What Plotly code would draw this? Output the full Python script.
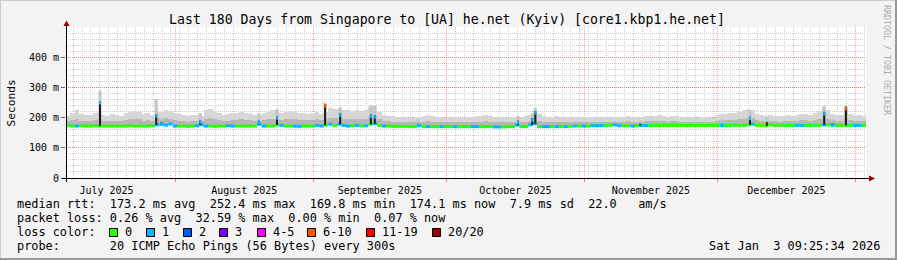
import pandas as pd
import plotly.graph_objects as go

# ---------------- data ----------------
START = pd.Timestamp("2025-07-07 09:25:34")
END = pd.Timestamp("2026-01-03 09:25:34")

# daily median rtt (ms)
median_ms = [
    173, 172, 172, 173, 172, 172, 173, 172, 172, 172,
    172, 172, 172, 172, 173, 172, 172, 172, 172, 173,
    176, 178, 175, 179, 172, 172, 172, 171, 172, 173,
    176, 172, 172, 171, 172, 172, 173, 172, 172, 172,
    172, 172, 172, 178, 172, 172, 172, 176, 174, 172,
    172, 172, 171, 172, 172, 172, 174, 172, 175, 178,
    173, 178, 174, 172, 173, 174, 172, 173, 178, 180,
    174, 172, 172, 171, 171, 171, 171, 170, 170, 174,
    170, 170, 170, 170, 170, 170, 170, 170, 170, 170,
    170, 170, 170, 170, 170, 170, 169, 169, 169, 170,
    170, 175, 170, 170, 176, 180, 170, 170, 170, 170,
    170, 170, 170, 171, 172, 172, 172, 172, 173, 173,
    173, 174, 174, 176, 173, 173, 173, 172, 173, 174,
    174, 174, 174, 174, 174, 174, 174, 174, 174, 174,
    174, 174, 174, 174, 174, 174, 174, 174, 173, 174,
    174, 174, 174, 176, 178, 174, 174, 173, 176, 174,
    174, 174, 174, 174, 174, 174, 174, 174, 174, 174,
    176, 176, 176, 174, 174, 174, 174, 174, 174, 174,
]

# daily loss class (index into loss_labels)
loss_cat = [
    0, 0, 1, 0, 0, 0, 0, 0, 0, 0, 0, 0, 0, 0, 0, 0, 0, 0, 0, 0, 1, 1, 1, 1, 1, 0, 0, 0, 0, 1,
    1, 1, 0, 0, 0, 0, 1, 1, 0, 0, 0, 0, 0, 1, 1, 0, 0, 0, 1, 0, 0, 1, 1, 0, 0, 0, 1, 1, 0, 1,
    0, 1, 1, 1, 0, 1, 0, 1, 0, 1, 0, 1, 0, 0, 0, 0, 0, 0, 0, 1, 0, 1, 0, 0, 1, 0, 0, 1, 0, 0,
    0, 1, 1, 0, 0, 0, 1, 1, 0, 0, 0, 1, 0, 0, 1, 1, 0, 1, 1, 0, 1, 0, 1, 0, 1, 0, 1, 0, 1, 1,
    1, 0, 0, 1, 1, 0, 0, 1, 0, 1, 1, 0, 0, 0, 0, 0, 0, 0, 0, 0, 0, 0, 0, 0, 0, 0, 0, 1, 0, 0,
    0, 0, 0, 0, 1, 0, 0, 0, 0, 0, 0, 0, 0, 0, 1, 1, 0, 0, 0, 0, 1, 0, 1, 0, 0, 0, 0, 1, 1, 0,
]

# top of the dense (dark) smoke, ms
smoke_dark_ms = [
    190, 192, 195, 190, 188, 190, 192, 194, 190, 188,
    190, 189, 188, 192, 195, 196, 194, 190, 192, 190,
    198, 196, 198, 195, 192, 190, 188, 187, 189, 188,
    188, 196, 198, 195, 192, 190, 190, 193, 192, 194,
    192, 191, 189, 190, 193, 195, 197, 196, 193, 194,
    196, 194, 192, 192, 191, 193, 194, 191, 195, 200,
    200, 198, 197, 196, 195, 196, 195, 196, 202, 204,
    195, 190, 188, 187, 186, 186, 186, 185, 185, 186,
    187, 188, 187, 186, 185, 185, 186, 186, 185, 184,
    185, 186, 187, 187, 188, 187, 186, 185, 185, 184,
    185, 185, 186, 187, 190, 196, 190, 187, 186, 185,
    186, 186, 185, 185, 186, 186, 185, 186, 186, 185,
    186, 186, 187, 187, 186, 187, 188, 187, 186, 187,
    188, 188, 188, 189, 188, 187, 188, 188, 187, 186,
    186, 185, 186, 186, 187, 186, 190, 191, 191, 192,
    193, 195, 197, 199, 198, 192, 190, 188, 189, 188,
    187, 188, 189, 188, 190, 191, 191, 190, 192, 196,
    200, 196, 191, 190, 189, 200, 191, 190, 189, 188,
]

# top of the light smoke (slowest pings), ms
smoke_light_ms = [
    205, 215, 225, 212, 208, 210, 215, 218, 210, 205,
    212, 210, 206, 214, 220, 222, 218, 212, 215, 210,
    222, 218, 224, 222, 214, 212, 208, 206, 210, 208,
    206, 224, 230, 222, 214, 210, 212, 216, 214, 220,
    214, 212, 208, 210, 216, 220, 225, 224, 215, 218,
    222, 218, 215, 214, 212, 216, 218, 212, 220, 232,
    230, 228, 226, 224, 222, 225, 222, 224, 236, 238,
    220, 210, 206, 204, 202, 201, 202, 200, 201, 203,
    205, 207, 205, 203, 201, 200, 202, 203, 200, 199,
    201, 203, 205, 205, 207, 205, 203, 202, 201, 200,
    201, 200, 203, 205, 210, 222, 212, 205, 203, 202,
    204, 203, 202, 201, 203, 202, 201, 203, 202, 201,
    202, 201, 203, 202, 201, 203, 205, 203, 202, 203,
    205, 204, 205, 207, 205, 203, 204, 205, 203, 202,
    201, 200, 202, 201, 203, 200, 209, 212, 212, 214,
    216, 220, 224, 228, 226, 212, 210, 206, 208, 206,
    204, 206, 208, 206, 210, 212, 212, 210, 214, 222,
    236, 224, 212, 210, 208, 234, 212, 210, 208, 206,
]

# short latency spikes
spike_time = [
    "2025-07-15 01:00", "2025-07-27 16:30", "2025-07-28 19:00", "2025-08-06 14:00",
    "2025-08-19 19:00", "2025-08-23 21:00", "2025-09-03 16:30", "2025-09-07 02:00",
    "2025-09-13 23:45", "2025-09-14 21:00", "2025-09-24 14:00", "2025-10-17 02:00",
    "2025-10-20 07:00", "2025-10-20 23:45", "2025-11-13 14:00", "2025-12-01 23:45",
    "2025-12-08 07:00", "2025-12-12 02:00", "2025-12-24 23:45", "2025-12-26 19:00",
    "2025-12-29 21:00",
]
spike_ms = [255, 212, 186, 192, 190, 205, 245, 214, 210, 208, 180, 190,
            198, 222, 180, 180, 203, 185, 219, 180, 236]
spike_smoke_ms = [290, 262, 200, 215, 215, 228, 250, 235, 240, 238, 195, 205,
                  215, 232, 190, 195, 225, 200, 238, 195, 240]
spike_cat = [1, 1, 1, 1, 1, 1, 5, 1, 1, 1, 1, 1, 1, 1, None, 1, 1, None, 1, 1, 5]

loss_labels = ["0", "1", "2", "3", "4-5", "6-10", "11-19", "20/20"]
loss_colors = ["#26ff00", "#00b8ff", "#0059ff", "#7e00ff", "#ff00ff",
               "#ff5500", "#ff0000", "#a10000"]

y_tick_vals = [0, 100, 200, 300, 400]
y_tick_text = ["0", "100 m", "200 m", "300 m", "400 m"]

title_text = "Last 180 Days from Singapore to [UA] he.net (Kyiv) [core1.kbp1.he.net]"
rtt_line = "median rtt:  173.2 ms avg  252.4 ms max  169.8 ms min  174.1 ms now  7.9 ms sd  22.0   am/s"
loss_line = "packet loss: 0.26 % avg  32.59 % max  0.00 % min  0.07 % now"
color_line = "loss color:"
probe_line = "probe:       20 ICMP Echo Pings (56 Bytes) every 300s"
stamp_text = "Sat Jan  3 09:25:34 2026"

# ---------------- figure ----------------
W, H = 897, 260
L, R, T, B = 66, 866, 27, 178          # plot area in pixels
MONO = "DejaVu Sans Mono"
DAY = pd.Timedelta(days=1)
DAY_MS = 86400000


def PX(x):
    return (x - L) / (R - L)


def PY(y):
    return (B - y) / (B - T)


def nb(s):
    return s.replace(" ", "\u00a0")


n = len(median_ms)
day_start = [START + i * DAY for i in range(n)]
day_mid = [START + (i + 0.5) * DAY for i in range(n)]

fig = go.Figure()

# light smoke
fig.add_trace(go.Bar(
    x=day_mid, y=[t - m for t, m in zip(smoke_light_ms, median_ms)], base=median_ms,
    width=DAY_MS, marker=dict(color="#d6d6d6", line_width=0), hoverinfo="skip"))

# smoke above spikes
sx, sy = [], []
for t, top in zip(spike_time, spike_smoke_ms):
    ts = pd.Timestamp(t)
    i = int((ts - START) / DAY)
    sx += [ts, ts, None]
    sy += [median_ms[i], top, None]
fig.add_trace(go.Scatter(x=sx, y=sy, mode="lines", line=dict(color="#c4c4c4", width=3),
                         hoverinfo="skip"))

# dense smoke
fig.add_trace(go.Bar(
    x=day_mid, y=[t - m for t, m in zip(smoke_dark_ms, median_ms)], base=median_ms,
    width=DAY_MS, marker=dict(color="#b6b6b6", line_width=0), hoverinfo="skip"))

# median line coloured by loss
for c in sorted(set(loss_cat)):
    lx, ly = [], []
    for i in range(n):
        if loss_cat[i] == c:
            lx += [day_start[i], day_start[i] + DAY, None]
            ly += [median_ms[i], median_ms[i], None]
    fig.add_trace(go.Scatter(x=lx, y=ly, mode="lines",
                             line=dict(color=loss_colors[c], width=3), hoverinfo="skip"))

# spikes (dark body) and their loss-coloured caps
bx, by = [], []
for t, top in zip(spike_time, spike_ms):
    ts = pd.Timestamp(t)
    i = int((ts - START) / DAY)
    bx += [ts, ts, None]
    by += [median_ms[i], top, None]
fig.add_trace(go.Scatter(x=bx, y=by, mode="lines", line=dict(color="#1a1a1a", width=2),
                         hoverinfo="skip"))
for c in sorted(set(k for k in spike_cat if k is not None)):
    cx, cy = [], []
    for t, top, k in zip(spike_time, spike_ms, spike_cat):
        if k == c:
            ts = pd.Timestamp(t)
            cx += [ts, ts, None]
            cy += [top - 12, top, None]
    fig.add_trace(go.Scatter(x=cx, y=cy, mode="lines",
                             line=dict(color=loss_colors[c], width=2), hoverinfo="skip"))

shapes = []
# outer frame shading
shapes += [
    dict(type="line", xref="paper", yref="paper", x0=PX(0), x1=PX(W), y0=PY(0.5), y1=PY(0.5),
         line=dict(color="#cbcbcb", width=1)),
    dict(type="line", xref="paper", yref="paper", x0=PX(0.5), x1=PX(0.5), y0=PY(0), y1=PY(H),
         line=dict(color="#cbcbcb", width=1)),
    dict(type="line", xref="paper", yref="paper", x0=PX(0), x1=PX(W), y0=PY(H - 1), y1=PY(H - 1),
         line=dict(color="#999999", width=2)),
    dict(type="line", xref="paper", yref="paper", x0=PX(W - 1), x1=PX(W - 1), y0=PY(0), y1=PY(H),
         line=dict(color="#999999", width=2)),
]
# axes with arrows
shapes += [
    dict(type="line", xref="paper", yref="paper", x0=PX(62), x1=PX(869), y0=PY(178.5), y1=PY(178.5),
         line=dict(color="#000000", width=1)),
    dict(type="line", xref="paper", yref="paper", x0=PX(66.5), x1=PX(66.5), y0=PY(182), y1=PY(25),
         line=dict(color="#000000", width=1)),
    dict(type="path", xref="paper", yref="paper",
         path=f"M {PX(869)} {PY(175.5)} L {PX(875)} {PY(178.5)} L {PX(869)} {PY(181.5)} Z",
         fillcolor="#990000", line=dict(color="#990000", width=0)),
    dict(type="path", xref="paper", yref="paper",
         path=f"M {PX(63.5)} {PY(26)} L {PX(66.5)} {PY(20.5)} L {PX(69.5)} {PY(26)} Z",
         fillcolor="#990000", line=dict(color="#990000", width=0)),
]

annotations = []


def txt(x, y, s, size=11.86, anchor="left", color="#000000", angle=0):
    annotations.append(dict(
        xref="paper", yref="paper", x=PX(x), y=PY(y), text=nb(s), showarrow=False,
        xanchor=anchor, yanchor="middle", textangle=angle,
        font=dict(family=MONO, size=size, color=color)))


txt(15, 204.3, rtt_line)
txt(15, 218.3, loss_line)
txt(15, 232.3, color_line)
txt(15, 246.3, probe_line)
txt(882, 246.3, stamp_text, anchor="right")
txt(11, 102.5, "Seconds", size=11.2, anchor="center", angle=-90)
txt(887, 60, "RRDTOOL / TOBI OETIKER", size=8.3, anchor="center", color="#ababab", angle=90)

sw_x = [109, 146, 183, 219, 257, 307, 366, 432]
for xs, lab, col in zip(sw_x, loss_labels, loss_colors):
    shapes.append(dict(type="rect", xref="paper", yref="paper",
                       x0=PX(xs + 0.5), x1=PX(xs + 8.5), y0=PY(228.5), y1=PY(236.5),
                       fillcolor=col, line=dict(color="#000000", width=1)))
    txt(xs + 14, 232.3, lab)

fig.update_layout(
    width=W, height=H,
    margin=dict(l=L, r=W - R, t=T, b=H - B, pad=0),
    paper_bgcolor="#f3f3f3", plot_bgcolor="#ffffff",
    showlegend=False, hovermode=False,
    barmode="overlay", bargap=0,
    title=dict(text=title_text, x=447 / W, xanchor="center", xref="container",
               y=1 - 19 / H, yanchor="middle", yref="container",
               font=dict(family=MONO, size=13.2, color="#000000")),
    xaxis=dict(
        type="date", range=[START, END], fixedrange=True,
        dtick="M1", tick0="2025-08-01", ticklabelmode="period", tickformat="%B %Y",
        showgrid=True, gridcolor="rgba(255,0,0,0.38)", griddash="1px,1px", gridwidth=1,
        ticks="outside", ticklen=3, tickcolor="rgba(255,0,0,0.5)",
        tickfont=dict(family=MONO, size=10, color="#000000"),
        minor=dict(dtick=2 * DAY_MS, tick0="2025-08-30", showgrid=True,
                   gridcolor="#cfcfcf", griddash="1px,1px", gridwidth=1),
        showline=False, zeroline=False,
    ),
    yaxis=dict(
        range=[0, 500], fixedrange=True,
        tickmode="array", tickvals=y_tick_vals, ticktext=y_tick_text,
        showgrid=True, gridcolor="rgba(255,0,0,0.38)", griddash="1px,1px", gridwidth=1,
        ticks="outside", ticklen=4, tickcolor="#666666",
        tickfont=dict(family=MONO, size=10, color="#000000"),
        minor=dict(dtick=20, showgrid=True, gridcolor="#cfcfcf", griddash="1px,1px",
                   gridwidth=1),
        showline=False, zeroline=False,
    ),
    shapes=shapes, annotations=annotations,
)

fig.write_html("out.html")
